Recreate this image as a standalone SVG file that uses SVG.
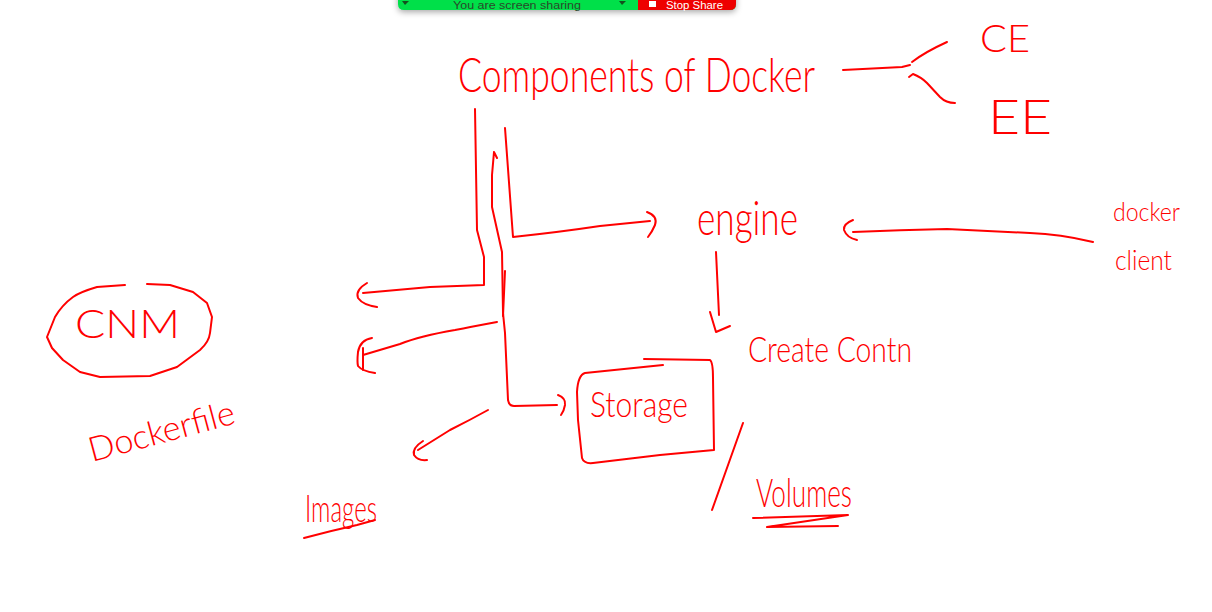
<svg xmlns="http://www.w3.org/2000/svg" width="1212" height="612" viewBox="0 0 1212 612">
<defs>
<style>
.ink{fill:none;stroke:#f00;stroke-width:2;stroke-linecap:round;stroke-linejoin:round}
.hw{fill:#f00;font-family:"Lato","Liberation Sans",sans-serif;font-weight:300}
.bar{font-family:"Liberation Sans",sans-serif;font-size:10px}
</style>
<filter id="shadow" x="-10%" y="-100%" width="120%" height="400%">
<feDropShadow dx="0" dy="2" stdDeviation="3" flood-color="#000" flood-opacity="0.35"/>
</filter>
</defs>
<rect width="1212" height="612" fill="#fff"/>

<g id="banner">
<path d="M398,-10 H736 V4 Q736,10 730,10 H404 Q398,10 398,4 Z" fill="#00e04a" filter="url(#shadow)"/>
<path d="M638,-10 H736 V4 Q736,10 730,10 H638 Z" fill="#ee0000"/>
<path d="M402,1 L405,5 L409,1" fill="#14501e"/>
<path d="M619,1 L622,5 L626,1" fill="#14501e"/>
<text class="bar" x="453" y="8.5" fill="#2b4a2b" textLength="128" lengthAdjust="spacingAndGlyphs">You are screen sharing</text>
<rect x="649" y="1" width="7" height="6" fill="#fff"/>
<text class="bar" x="666" y="8.5" fill="#fff" textLength="57" lengthAdjust="spacingAndGlyphs">Stop Share</text>
</g>

<g id="title">
<text class="hw" x="458" y="92" font-size="48" textLength="357" lengthAdjust="spacingAndGlyphs">Components of Docker</text>
</g>
<g id="ce">
<text class="hw" x="980" y="52" font-size="37" textLength="50" lengthAdjust="spacingAndGlyphs">CE</text>
</g>
<g id="ee">
<text class="hw" x="988" y="134" font-size="48" textLength="64" lengthAdjust="spacingAndGlyphs">EE</text>
</g>
<g id="engine">
<text class="hw" x="697" y="235" font-size="48" textLength="101" lengthAdjust="spacingAndGlyphs">engine</text>
</g>
<g id="docker-client">
<text class="hw" x="1113" y="221" font-size="26" textLength="67" lengthAdjust="spacingAndGlyphs">docker</text>
<text class="hw" x="1115" y="270" font-size="28" textLength="57" lengthAdjust="spacingAndGlyphs">client</text>
</g>
<g id="create-container">
<text class="hw" x="748" y="362" font-size="36" textLength="164" lengthAdjust="spacingAndGlyphs">Create Contn</text>
</g>
<g id="cnm">
<path class="ink" d="M125,285 L97,287 Q80,292 73,297 Q62,305 55,317 L47,337 L52,348 L63,360 L80,372 L100,377 L150,376 L177,367 L200,350 Q209,342 210,333 L212,317 L207,303 L193,292 L170,285 L147,284"/>
<text class="hw" x="75" y="338" font-size="40" textLength="105" lengthAdjust="spacingAndGlyphs">CNM</text>
</g>
<g id="dockerfile">
<text class="hw" x="92" y="462" font-size="34" textLength="150" lengthAdjust="spacingAndGlyphs" transform="rotate(-15 92 462)">Dockerfile</text>
</g>
<g id="storage">
<path class="ink" d="M644,359 L710,360 Q713,362 713,378 L714,450 L660,455 L593,463 Q584,464 582,458 L578,420 L577,392 Q578,375 585,373 L663,365"/>
<text class="hw" x="590" y="417" font-size="36" textLength="98" lengthAdjust="spacingAndGlyphs">Storage</text>
</g>
<g id="images">
<text class="hw" x="305" y="522" font-size="38" textLength="72" lengthAdjust="spacingAndGlyphs">Images</text>
<path class="ink" d="M304,538 Q330,531 357,525 L375,520"/>
</g>
<g id="volumes">
<text class="hw" x="756" y="507" font-size="40" textLength="96" lengthAdjust="spacingAndGlyphs">Volumes</text>
<path class="ink" d="M753,518 L848,515 L767,527 L838,526"/>
</g>

<g id="connectors">
<path class="ink" d="M843,70 L902,67 L910,65"/>
<path class="ink" d="M912,62 Q925,52 947,42"/>
<path class="ink" d="M909,77 L913,74 Q921,77 927,83 L940,97 Q946,103 955,103"/>
<path class="ink" d="M475,109 L477,230 L484,257 L484,285 L430,287 L363,293"/>
<path class="ink" d="M367,283 Q355,290 358,298 Q363,305 377,307"/>
<path class="ink" d="M505,128 L513,237 Q560,232 600,226 L650,221"/>
<path class="ink" d="M647,212 Q658,216 655,225 Q652,232 648,237"/>
<path class="ink" d="M497,158 L494,152 L492,175 L492,207 L502,252 L503,313 L505,333 L508,400 Q509,406 514,406 L557,405"/>
<path class="ink" d="M558,395 Q566,398 565,405 Q564,411 561,415"/>
<path class="ink" d="M505,271 L503,316"/>
<path class="ink" d="M497,322 Q470,327 455,330 Q420,336 400,344 L363,355"/>
<path class="ink" d="M372,338 Q360,340 358,352 Q357,362 358,366 Q362,371 375,373"/>
<path class="ink" d="M363,348 L363,370"/>
<path class="ink" d="M1093,242 Q1060,234 1030,233 L947,229 Q900,230 853,232"/>
<path class="ink" d="M853,220 Q843,224 844,230 Q847,238 857,240"/>
<path class="ink" d="M716,252 L719,315"/>
<path class="ink" d="M710,312 L716,332 L730,326"/>
<path class="ink" d="M488,410 Q470,420 450,430 L418,450"/>
<path class="ink" d="M423,441 Q412,448 414,455 Q418,461 427,460"/>
<path class="ink" d="M743,423 L712,510"/>
</g>
</svg>
